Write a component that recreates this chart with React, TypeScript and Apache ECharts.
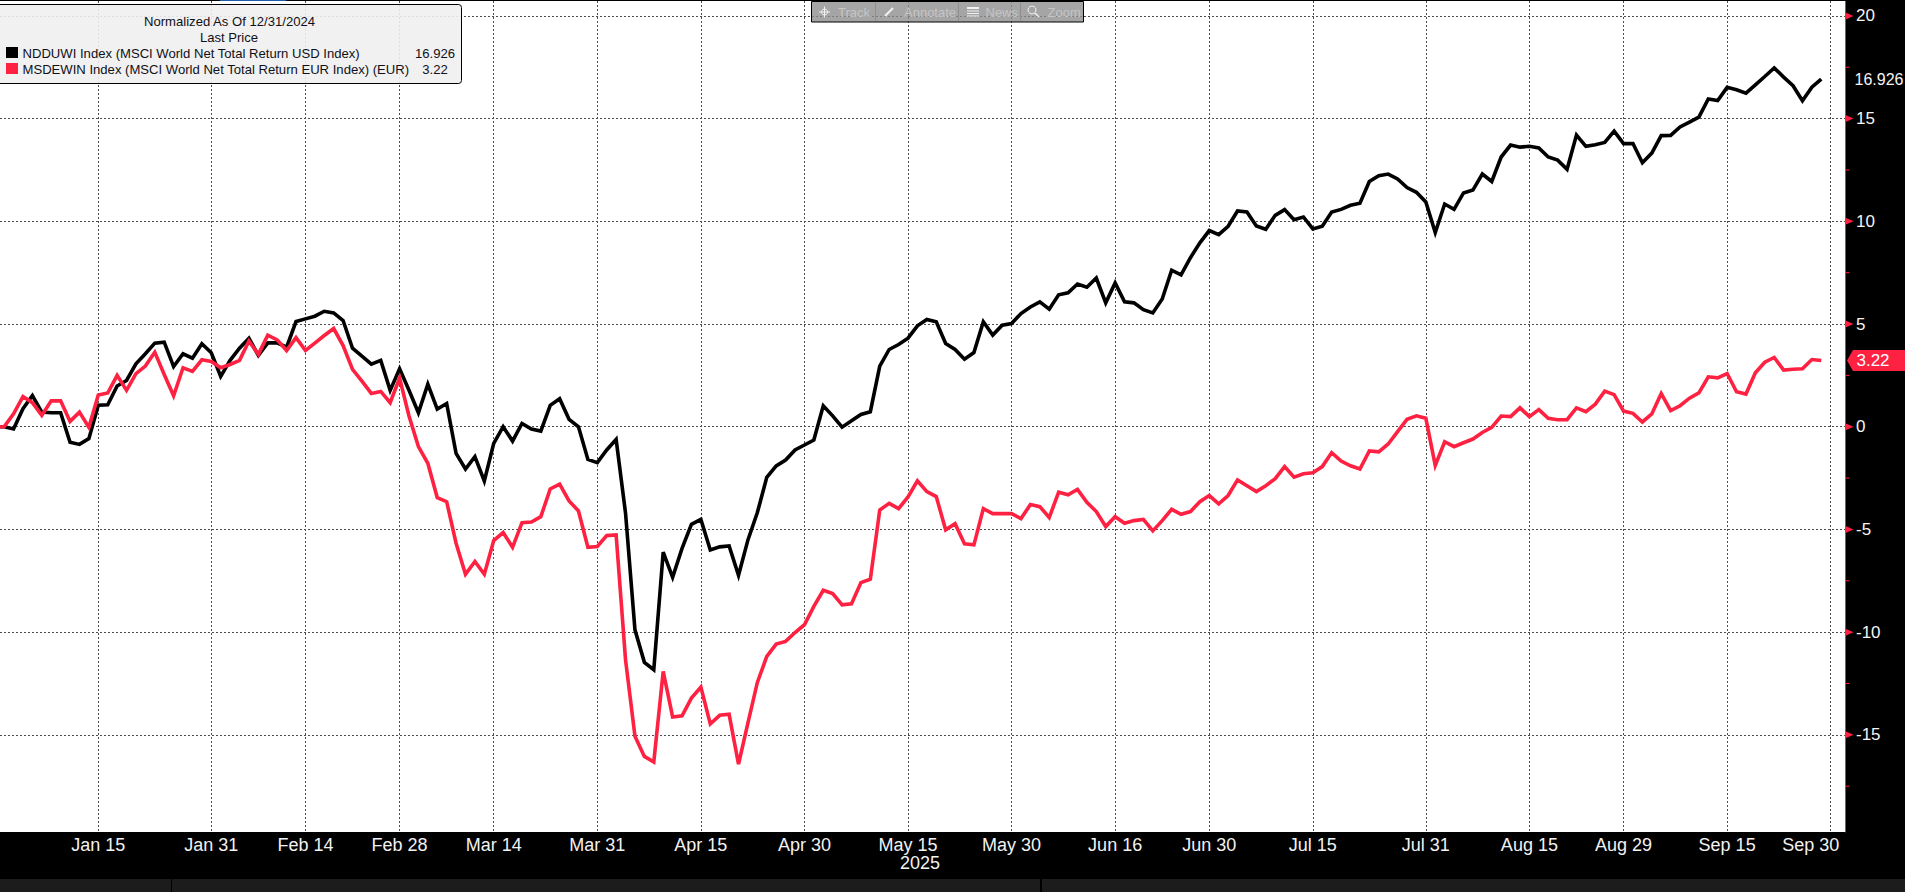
import React, { useEffect, useRef } from "react";
import * as echarts from "echarts";

// Trading-day position: 0 = Dec 31 2024, one step per weekday
const tickLabels = ["Jan 15","Jan 31","Feb 14","Feb 28","Mar 14","Mar 31","Apr 15","Apr 30","May 15","May 30","Jun 16","Jun 30","Jul 15","Jul 31","Aug 15","Aug 29","Sep 15","Sep 30"];
const tickPositions = [11,23,33,43,53,64,75,86,97,108,119,129,140,152,163,173,184,195];
const majorValues = [20,15,10,5,0,-5,-10,-15];
const minorValues = [17.5,12.5,7.5,2.5,-2.5,-7.5,-12.5,-17.5];

const ndduwi = [0,0,-0.11,0.88,1.52,0.71,0.68,0.68,-0.76,-0.86,-0.58,1.05,1.07,1.98,2.25,3.06,3.55,4.07,4.12,2.93,3.55,3.34,4.04,3.6,2.45,3.23,3.82,4.31,3.47,4.08,4.08,3.87,5.12,5.25,5.38,5.62,5.54,5.17,3.82,3.44,3.05,3.23,1.77,2.82,1.78,0.68,2.07,0.86,1.13,-1.3,-2.06,-1.46,-2.64,-0.81,0,-0.7,0.16,-0.11,-0.21,1.04,1.36,0.36,0,-1.59,-1.75,-1.13,-0.62,-4.21,-9.89,-11.47,-11.83,-6.11,-7.33,-5.92,-4.75,-4.51,-6,-5.85,-5.8,-7.23,-5.51,-4.18,-2.46,-1.91,-1.62,-1.13,-0.89,-0.65,1.02,0.53,-0.02,0.29,0.6,0.73,2.95,3.76,4,4.31,4.91,5.22,5.11,4.05,3.76,3.29,3.61,5.11,4.46,4.94,5.02,5.51,5.83,6.08,5.72,6.42,6.52,6.95,6.79,7.24,6.03,7,6.08,6.03,5.7,5.54,6.22,7.62,7.39,8.23,8.95,9.55,9.35,9.76,10.5,10.45,9.77,9.61,10.29,10.57,10.08,10.21,9.63,9.76,10.45,10.58,10.78,10.88,11.94,12.22,12.3,12.06,11.64,11.41,10.94,9.45,10.84,10.58,11.38,11.52,12.3,11.94,13.13,13.71,13.61,13.65,13.57,13.13,12.98,12.53,14.2,13.65,13.73,13.84,14.39,13.78,13.79,12.85,13.32,14.17,14.18,14.59,14.83,15.07,15.96,15.88,16.52,16.4,16.24,16.64,17.05,17.47,17.02,16.6,15.87,16.53,16.926];
const msdewin = [0,0,0.63,1.47,1.17,0.55,1.26,1.26,0.26,0.71,-0.03,1.54,1.64,2.5,1.77,2.58,2.95,3.63,2.54,1.51,2.87,2.69,3.26,3.18,2.87,3.03,3.23,4.17,3.52,4.46,4.23,3.71,4.34,3.71,4.07,4.44,4.78,3.95,2.79,2.22,1.62,1.72,1.17,2.37,0.52,-0.97,-1.78,-3.45,-3.65,-5.67,-7.18,-6.56,-7.18,-5.54,-5.15,-5.87,-4.67,-4.64,-4.38,-3.03,-2.8,-3.61,-4.1,-5.87,-5.83,-5.3,-5.27,-11.35,-15.07,-16.05,-16.32,-11.91,-14.13,-14.07,-13.21,-12.67,-14.47,-14.05,-14,-16.43,-14.42,-12.45,-11.18,-10.58,-10.45,-10.02,-9.64,-8.75,-7.96,-8.12,-8.67,-8.62,-7.59,-7.42,-4.05,-3.73,-3.99,-3.42,-2.63,-3.16,-3.4,-5.02,-4.72,-5.7,-5.75,-3.99,-4.23,-4.23,-4.23,-4.47,-3.79,-3.89,-4.42,-3.19,-3.31,-3.05,-3.68,-4.13,-4.86,-4.38,-4.7,-4.57,-4.51,-5.07,-4.57,-4.02,-4.26,-4.13,-3.65,-3.35,-3.75,-3.35,-2.59,-2.87,-3.16,-2.87,-2.53,-1.94,-2.46,-2.29,-2.24,-1.94,-1.26,-1.67,-1.9,-2.06,-1.18,-1.22,-0.84,-0.24,0.36,0.53,0.41,-1.88,-0.73,-0.97,-0.78,-0.6,-0.28,-0.03,0.52,0.49,0.92,0.49,0.83,0.41,0.34,0.34,0.92,0.73,1.1,1.73,1.56,0.76,0.65,0.23,0.62,1.62,0.78,1.02,1.39,1.65,2.43,2.38,2.59,1.7,1.59,2.63,3.14,3.37,2.76,2.8,2.82,3.27,3.22];

const BLACK_NAME = "NDDUWI Index (MSCI World Net Total Return USD Index)";
const RED_NAME = "MSDEWIN Index (MSCI World Net Total Return EUR Index) (EUR)";
const LAST_BLACK = "16.926";
const LAST_RED = "3.22";
const RED = "#ff2142";
const FONT = "Liberation Sans";
const X_MIN = 0.56;
const X_MAX = 196.52;

const toPairs = (arr: number[]) => arr.map((v, i) => [i, v]);
const edge = (vals: number[]) => vals.map((v) => [X_MAX, v]);

function toolbarItems() {
  const z = 50;
  const line = (x1: number, y1: number, x2: number, y2: number, w = 1) => ({
    type: "line", z, silent: true, shape: { x1, y1, x2, y2 }, style: { stroke: "#f2f2f2", lineWidth: w },
  });
  const label = (text: string, x: number) => ({
    type: "text", z, silent: true, x, y: 12,
    style: { text, fill: "#c6c6c6", font: `13px '${FONT}'`, textAlign: "left", textVerticalAlign: "middle" },
  });
  const sep = (x: number) => ({
    type: "line", z, silent: true, shape: { x1: x, y1: 2, x2: x, y2: 21 }, style: { stroke: "#8f8f8f", lineWidth: 1 },
  });
  return [
    { type: "rect", z, silent: true, shape: { x: 811.5, y: 1.5, width: 272, height: 20.5 }, style: { fill: "rgba(140,140,140,0.78)", stroke: "#000", lineWidth: 1 } },
    sep(875.5), sep(958.5), sep(1020.5),
    label("Track", 838), label("Annotate", 904), label("News", 985.5), label("Zoom", 1047.5),
    { type: "circle", z, silent: true, shape: { cx: 824.5, cy: 12, r: 3 }, style: { fill: "none", stroke: "#f2f2f2", lineWidth: 1 } },
    line(819, 12, 830, 12), line(824.5, 6.5, 824.5, 17.5),
    line(885, 16, 893, 8, 2),
    line(967, 8, 979, 8, 2), line(967, 11, 979, 11), line(967, 13.5, 979, 13.5), line(967, 16, 979, 16),
    { type: "circle", z, silent: true, shape: { cx: 1032, cy: 10, r: 4 }, style: { fill: "none", stroke: "#f2f2f2", lineWidth: 1 } },
    line(1035, 13, 1039, 17, 1.5),
  ];
}

function legendItems() {
  const z = 60;
  const txt = (text: string, x: number, y: number, align = "left") => ({
    type: "text", z, silent: true, x, y,
    style: { text, fill: "#101018", font: `13.1px '${FONT}'`, textAlign: align, textVerticalAlign: "middle" },
  });
  return [
    { type: "rect", z, silent: true, shape: { x: -4, y: 4.5, width: 465.5, height: 79, r: 3 }, style: { fill: "rgba(240,240,240,0.9)", stroke: "#000", lineWidth: 1 } },
    txt("Normalized As Of 12/31/2024", 229.5, 21, "center"),
    txt("Last Price", 229, 37.5, "center"),
    { type: "rect", z, silent: true, shape: { x: 6, y: 47, width: 12, height: 11 }, style: { fill: "#000" } },
    { type: "rect", z, silent: true, shape: { x: 6, y: 63, width: 12, height: 11 }, style: { fill: RED } },
    txt(BLACK_NAME, 22.5, 53.5),
    txt(RED_NAME, 22.5, 69.5),
    txt(LAST_BLACK, 435, 53.5, "center"),
    txt(LAST_RED, 435, 69.5, "center"),
  ];
}

export default function App() {
  const ref = useRef<HTMLDivElement>(null);
  useEffect(() => {
    const chart = echarts.init(ref.current!, undefined, { renderer: "svg" });
    const gridLine = { show: true, lineStyle: { color: "#4d4d4d", width: 1, type: [2, 2] as any } };
    chart.setOption({
      animation: false,
      backgroundColor: "#000",
      grid: { show: true, backgroundColor: "#fff", borderWidth: 0, left: 0, top: 1, width: 1845, height: 831 },
      xAxis: {
        type: "value",
        min: X_MIN,
        max: X_MAX,
        splitLine: gridLine,
        axisLine: { show: false },
        axisTick: { show: false, customValues: tickPositions },
        axisLabel: {
          customValues: tickPositions,
          margin: 4,
          color: "#f2f2f2",
          fontFamily: FONT,
          fontSize: 18,
          hideOverlap: false,
          formatter: (v: number) => {
            const t = tickLabels[tickPositions.indexOf(v)] ?? "";
            return t === "Sep 30" ? `{last|${t}}` : t;
          },
          rich: { last: { color: "#f2f2f2", fontFamily: FONT, fontSize: 18, padding: [0, 40, 0, 0] } },
        },
      },
      yAxis: {
        type: "value",
        position: "right",
        min: -19.73,
        max: 20.725,
        splitLine: gridLine,
        axisLine: { show: true, onZero: false, lineStyle: { color: RED, width: 1 } },
        axisTick: { show: false, customValues: majorValues },
        axisLabel: {
          customValues: majorValues,
          margin: 11,
          color: "#f4f4f4",
          fontFamily: FONT,
          fontSize: 17,
          showMinLabel: true,
          showMaxLabel: true,
        },
      },
      series: [
        { type: "line", name: BLACK_NAME, data: toPairs(ndduwi), symbol: "none", z: 5, lineStyle: { color: "#000", width: 3.6, join: "miter" } },
        { type: "line", name: RED_NAME, data: toPairs(msdewin), symbol: "none", z: 6, lineStyle: { color: RED, width: 3.6, join: "miter" } },
        {
          type: "scatter", data: edge(majorValues), clip: false, silent: true, z: 7,
          symbol: "path://M0 0L8 3.5L0 7Z", symbolSize: [8, 7], symbolOffset: [4.5, 0], itemStyle: { color: RED, opacity: 1 },
        },
        {
          type: "scatter", data: edge(minorValues), clip: false, silent: true, z: 7,
          symbol: "rect", symbolSize: [4, 1], symbolOffset: [2.5, 0], itemStyle: { color: RED, opacity: 1 },
        },
        {
          type: "scatter", data: edge([Number(LAST_BLACK)]), clip: false, silent: true, z: 8,
          symbol: "circle", symbolSize: 1, itemStyle: { color: "transparent", opacity: 1 },
          label: { show: true, position: "right", distance: 9, formatter: LAST_BLACK, color: "#f4f4f4", fontFamily: FONT, fontSize: 16 },
        },
        {
          type: "scatter", data: edge([Number(LAST_RED)]), clip: false, silent: true, z: 8,
          symbol: "path://M0 10.5L6 0L60 0L60 21L6 21Z", symbolSize: [60, 21], symbolOffset: [32, 0], itemStyle: { color: RED, opacity: 1 },
          label: { show: true, position: "inside", offset: [-4, 0], formatter: LAST_RED, color: "#fff", fontFamily: FONT, fontSize: 17 },
        },
      ],
      graphic: [
        { type: "text", z: 40, silent: true, x: 940, y: 863, style: { text: "2025", fill: "#f2f2f2", font: `18px '${FONT}'`, textAlign: "right", textVerticalAlign: "middle" } },
        { type: "rect", z: 40, silent: true, shape: { x: 0, y: 879, width: 1905, height: 13 }, style: { fill: "#1c1c1c" } },
        { type: "rect", z: 41, silent: true, shape: { x: 171, y: 879, width: 1, height: 13 }, style: { fill: "#000" } },
        { type: "rect", z: 41, silent: true, shape: { x: 1040, y: 879, width: 2, height: 13 }, style: { fill: "#000" } },
        { type: "rect", z: 41, silent: true, shape: { x: 0, y: 0, width: 1905, height: 1 }, style: { fill: "#000" } },
        { type: "rect", z: 42, silent: true, shape: { x: 220, y: 0, width: 66, height: 1 }, style: { fill: "#1a5aa8" } },
        ...toolbarItems(),
        ...legendItems(),
      ],
    });
    return () => chart.dispose();
  }, []);
  return <div ref={ref} style={{ position: "fixed", left: 0, top: 0, width: 1905, height: 892, overflow: "hidden" }} />;
}
